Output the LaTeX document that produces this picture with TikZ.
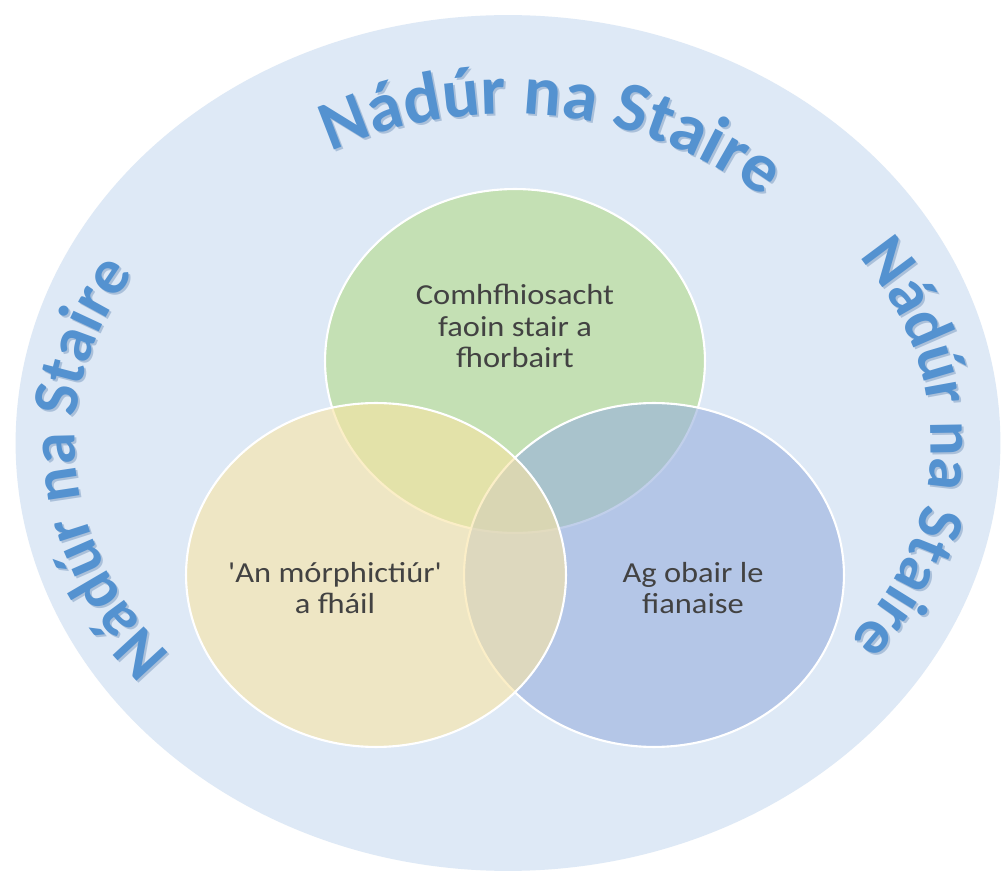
\documentclass[tikz,border=0pt]{standalone}
\usepackage{fontspec}
\setmainfont{Carlito}
\usetikzlibrary{shapes.geometric,decorations.text}

\definecolor{hintergrund}{RGB}{222,233,246}
\definecolor{gruen}{RGB}{180,218,136}
\definecolor{gelb}{RGB}{249,228,163}
\definecolor{blau}{RGB}{152,176,221}
\definecolor{textgrau}{RGB}{66,66,66}
\definecolor{kurvenblau}{RGB}{84,146,208}
\definecolor{schatten}{RGB}{170,192,218}

\newcommand\bogenschrift{\fontsize{37}{37}\selectfont\bfseries}
\newcommand\bogenschriftgross{\fontsize{40}{40}\selectfont\bfseries}

\begin{document}
\begin{tikzpicture}[
    x=0.02cm, y=0.02cm,
    kreis/.style={
      ellipse,
      draw=white,
      line width=1.2pt,
      fill opacity=.6,
      minimum width=7.6cm,
      minimum height=6.88cm},
    beschriftung/.style={
      align=center,
      text=textgrau,
      xscale=1.12,
      font=\fontsize{16.5}{17.9}\selectfont},
    bogentext/.style 2 args={
      decorate,
      decoration={text along path, text align=center, text color=#1,
        text={|#2|Nádúr na Staire}}}
    ]

  \fill[white] (0,0) rectangle (1002,873);
  \useasboundingbox (0,0) rectangle (1002,873);

  \node at (508,430) (rahmen) [ellipse, fill=hintergrund, minimum width=19.7cm, minimum height=17.12cm] {};

  \node at (515,512) (kreisoben) [kreis, fill=gruen] {};
  \node at (654,298) (kreisrechts) [kreis, fill=blau] {};
  \node at (376,298) (kreislinks) [kreis, fill=gelb] {};

  \node at (515,547) (komhfhios) [beschriftung] {Comhfhiosacht\\faoin stair a\\fhorbairt};
  \node at (335,285) (morphict) [beschriftung] {\textquotesingle An mórphictiúr\textquotesingle\\a fháil};
  \node at (693,285) (fianaise) [beschriftung] {Ag obair le\\fianaise};

  % oben: eigener Bogen, seitlich: Ellipse
  \foreach \farbe/\dx/\dy in {schatten/2/-2, kurvenblau/0/0} {
    \path [bogentext={\farbe}{\bogenschriftgross}, shift={(\dx,\dy)}] (508,327) ++(144:432)
      arc [start angle=144, end angle=24, radius=432];
    \foreach \mitte in {184,-1} {
      \path [bogentext={\farbe}{\bogenschrift}, shift={(\dx,\dy)}] (503,430) ++({\mitte+60}:428 and 335)
        arc [start angle=\mitte+60, end angle=\mitte-60, x radius=428, y radius=335];
    }
  }

\end{tikzpicture}
\end{document}
